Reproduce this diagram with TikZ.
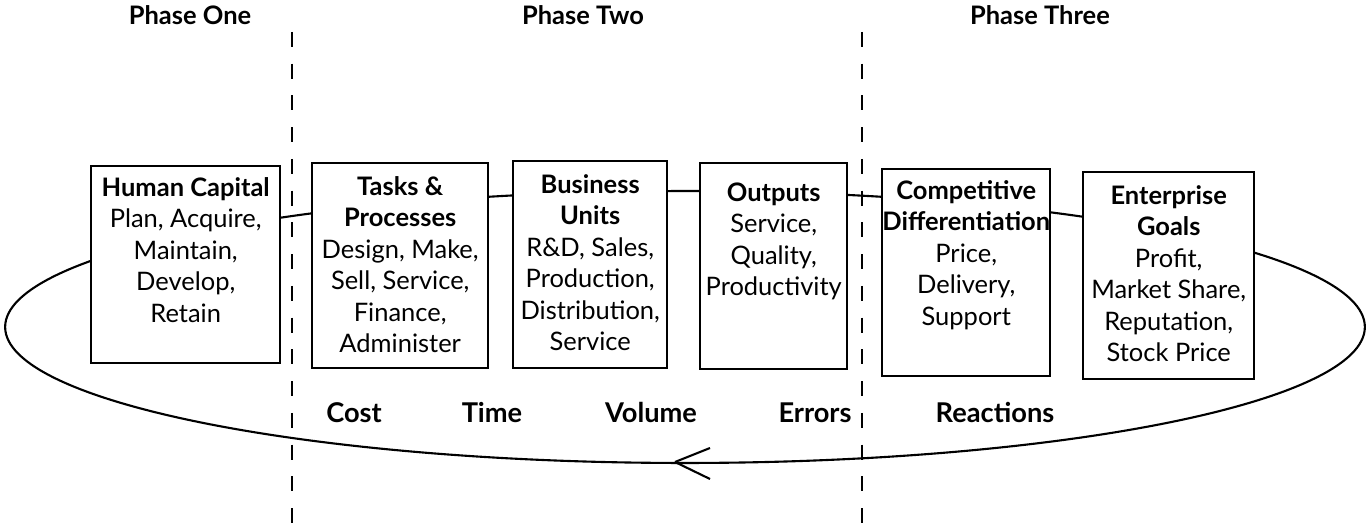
\documentclass[tikz,border=0pt]{standalone}
\usepackage{fontspec}
\setmainfont{Lato}
\usepackage{tikz}

\newcommand{\stagelines}[1]{\begin{tabular}[t]{@{}c@{}}#1\end{tabular}}

\tikzset{
  stage/.style={draw, line width=1.4pt, fill=white, anchor=north west,
    inner xsep=1pt, inner ysep=0pt, text height=0.64cm,
    font=\fontsize{14.5}{17.9}\selectfont},
  phase/.style={anchor=base, font=\bfseries\fontsize{14.5}{17}\selectfont},
  measure/.style={anchor=base, font=\bfseries\fontsize{15.5}{18}\selectfont},
  divider/.style={line width=1.3pt, dash pattern=on 0.3cm off 0.335cm},
  loopline/.style={line width=1.2pt},
}

\begin{document}
\begin{tikzpicture}[x=0.02cm, y=-0.02cm]
    \useasboundingbox (0,0) rectangle (1369,530);

    % phase borders
    \draw[divider] (292,32) -- (292,530);
    \draw[divider] (862,32) -- (862,530);

    % the loop
    \coordinate (loop) at (685,327);
    \draw[loopline] (loop) ellipse [x radius=13.6cm, y radius=2.72cm];
    \coordinate (tip) at (675,462);
    \draw[loopline] (tip) -- ++(35,-14) (tip) -- ++(35,17);

    \node[phase] (one) at (190,25) {Phase One};
    \node[phase] (two) at (583,25) {Phase Two};
    \node[phase] (three) at (1040,25) {Phase Three};

    \node[stage, minimum width=3.78cm, text height=0.6cm, text depth=3.34cm] (human) at (90,165)
        {\stagelines{\textbf{Human Capital}\\Plan, Acquire,\\Maintain,\\Develop,\\Retain}};
    \node[stage, minimum width=3.52cm, text depth=3.46cm] (tasks) at (311,162)
        {\stagelines{\textbf{Tasks \&}\\\textbf{Processes}\\Design, Make,\\Sell, Service,\\Finance,\\Administer}};
    \node[stage, minimum width=3.08cm, text depth=3.5cm] (units) at (512,160)
        {\stagelines{\textbf{Business}\\\textbf{Units}\\R\&D, Sales,\\Production,\\Distribution,\\Service}};
    \node[stage, minimum width=2.94cm, text height=0.76cm, text depth=3.36cm] (outputs) at (699,162)
        {\stagelines{\textbf{Outputs}\\Service,\\Quality,\\Productivity}};
    \node[stage, minimum width=3.36cm, inner xsep=0pt, text height=0.6cm, text depth=3.54cm] (compdiff) at (881,168)
        {\stagelines{\textbf{Competitive}\\\textbf{Differentiation}\\Price,\\Delivery,\\Support}};
    \node[stage, minimum width=3.42cm, text depth=3.5cm] (goals) at (1082,171)
        {\stagelines{\textbf{Enterprise}\\\textbf{Goals}\\Profit,\\Market Share,\\Reputation,\\Stock Price}};

    \node[measure] (cost) at (354,422) {Cost};
    \node[measure] (time) at (492,422) {Time};
    \node[measure] (volume) at (651,422) {Volume};
    \node[measure] (errors) at (815,422) {Errors};
    \node[measure] (reactions) at (995,422) {Reactions};
\end{tikzpicture}
\end{document}
